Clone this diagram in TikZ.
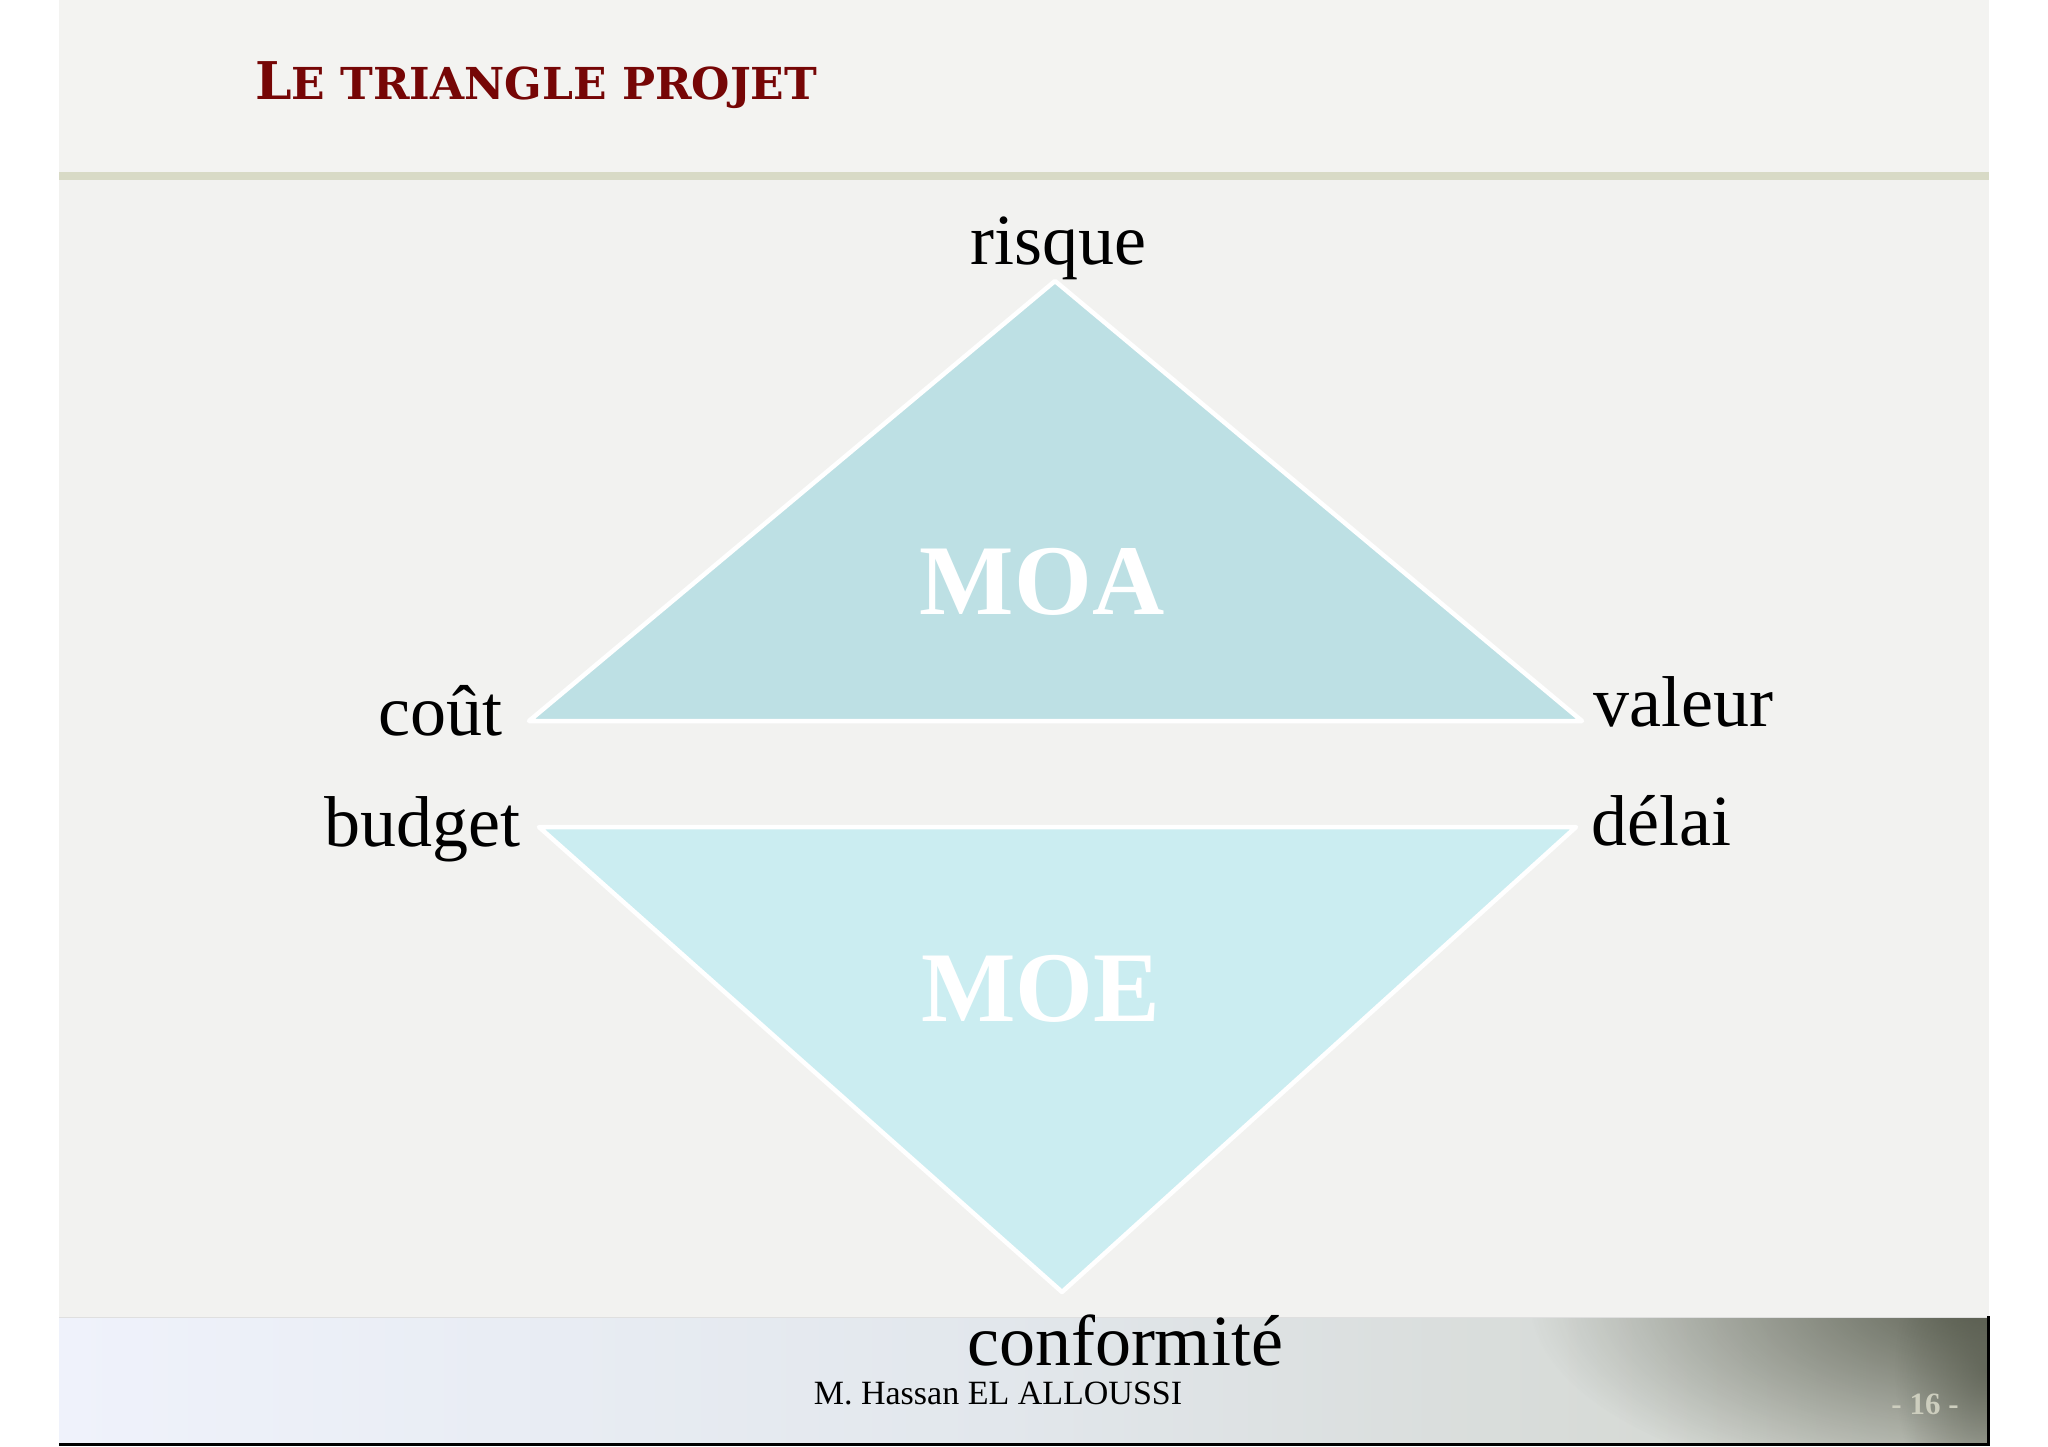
\documentclass[tikz,border=0pt]{standalone}
\usepackage{fontspec}
\setmainfont{Liberation Serif}
\newfontfamily\titlefont{DejaVu Serif}
\usetikzlibrary{fadings}
\tikzfading[name=cornerfade, inner color=transparent!0, outer color=transparent!100]
\definecolor{bg}{RGB}{242,242,240}
\definecolor{bgtop}{RGB}{243,243,241}
\definecolor{rulecol}{RGB}{216,218,198}
\definecolor{titlered}{RGB}{118,6,6}
\definecolor{moacol}{RGB}{189,224,228}
\definecolor{moecol}{RGB}{203,237,241}
\definecolor{footA}{RGB}{239,242,251}
\definecolor{footM}{RGB}{226,231,236}
\definecolor{footB}{RGB}{208,211,202}
\definecolor{darkol}{RGB}{80,84,70}
\definecolor{pagecol}{RGB}{205,206,190}
\tikzset{
  lbl/.style={inner sep=0pt, font=\fontsize{72}{80}\selectfont, text=black},
  big/.style={inner sep=0pt, font=\fontsize{100}{110}\selectfont\bfseries, text=white},
  tri/.style={draw=white, line width=4.5pt, line join=round}
}
\begin{document}
\begin{tikzpicture}[x=1pt,y=-1pt]
\useasboundingbox (0,0) rectangle (2048,1447);
\fill[white] (0,0) rectangle (2048,1447);
\fill[bgtop] (59,0) rectangle (1989,172);
\fill[bg] (59,180) rectangle (1989,1318);
\fill[rulecol] (59,172) rectangle (1989,180);
% footer
\shade[left color=footA, right color=footM] (59,1318) rectangle (1000,1443);
\shade[left color=footM, right color=footB] (1000,1318) rectangle (1989,1443);
\begin{scope}
  \clip (59,1318) rectangle (1989,1443);
  \fill[darkol, opacity=0.9, path fading=cornerfade] (1990,1300) ellipse [x radius=460, y radius=200];
  \fill[darkol, opacity=0.6, path fading=cornerfade] (1985,1370) ellipse [x radius=90, y radius=160];
\end{scope}
\draw[gray!25, line width=1.5pt] (59,1317.5) -- (1989,1317.5);
\draw[black, line width=3pt] (59,1444.5) -- (1990,1444.5);
\draw[black, line width=3pt] (1988.5,1316) -- (1988.5,1446);
% title
\node[anchor=base west, inner sep=0pt, text=titlered] (title) at (255,100)
  {\titlefont\bfseries\fontsize{52}{56}\selectfont L\fontsize{44}{50}\selectfont E TRIANGLE PROJET};
% triangles
\path[tri, fill=moacol] (1055,281) -- (1582,721) -- (529,721) -- cycle;
\path[tri, fill=moecol] (539,827) -- (1576,827) -- (1062,1292) -- cycle;
\node[big, anchor=base] (moa) at (1042,614) {MOA};
\node[big, anchor=base] (moe) at (1041,1021) {MOE};
% labels
\node[lbl, anchor=base] (risque) at (1058,265) {risque};
\node[lbl, anchor=base east] (cout) at (503,735) {coût};
\node[lbl, anchor=base west] (valeur) at (1593,726) {valeur};
\node[lbl, anchor=base east] (budget) at (521,846) {budget};
\node[lbl, anchor=base west] (delai) at (1591,845) {délai};
\node[lbl, anchor=base] (conf) at (1125,1365) {conformité};
\node[inner sep=0pt, anchor=base, font=\fontsize{34}{40}\selectfont] (author) at (998,1404) {M. Hassan EL ALLOUSSI};
\node[inner sep=0pt, anchor=base, text=pagecol, font=\fontsize{31}{34}\selectfont\bfseries] (page) at (1925,1414) {- 16 -};
\end{tikzpicture}
\end{document}
